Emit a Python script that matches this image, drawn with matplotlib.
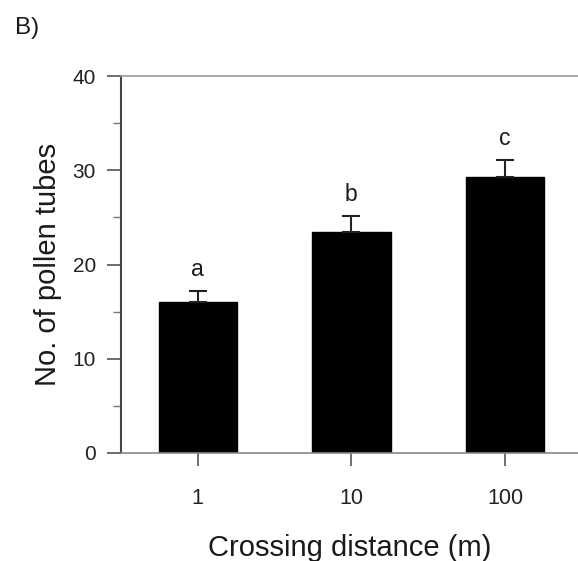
import matplotlib
matplotlib.use("Agg")
import matplotlib.pyplot as plt
from matplotlib.ticker import MultipleLocator

plt.rcParams['font.family'] = ['Liberation Sans', 'DejaVu Sans']

categories = ["1", "10", "100"]
means = [16.0, 23.5, 29.25]
sems = [1.2, 1.65, 1.85]
letters = ["a", "b", "c"]

fig = plt.figure(figsize=(5.78, 5.61), dpi=100)
ax = fig.add_axes([121/578, 108/561, 1 - 121/578, 377/561])

x = list(range(len(categories)))
ax.bar(x, means, width=0.51, color='black', edgecolor='black', zorder=2)
ax.errorbar(x, means, yerr=[[0]*len(sems), sems], fmt='none', ecolor='#222222',
            elinewidth=1.5, capsize=6.5, capthick=1.5, zorder=3)
for xi, m, s, l in zip(x, means, sems, letters):
    ax.text(xi, m + s + 2.25, l, ha='center', va='center', fontsize=16.5, color='#1a1a1a')

ax.set_xlim(-0.5, 2.475)
ax.set_ylim(0, 40)
ax.set_xticks(x)
ax.set_xticklabels(categories)
ax.yaxis.set_major_locator(MultipleLocator(10))
ax.yaxis.set_minor_locator(MultipleLocator(5))

ax.tick_params(axis='y', which='major', direction='out', length=10, width=1.2,
               color='#555555', labelsize=15, labelcolor='#222222', pad=8)
ax.tick_params(axis='y', which='minor', direction='out', length=6, width=1.0, color='#777777')
ax.tick_params(axis='x', which='major', direction='out', length=9, width=1.2,
               color='#555555', labelsize=15.5, labelcolor='#222222', pad=16)

ax.spines['right'].set_visible(False)
ax.spines['left'].set_color('#444444')
ax.spines['left'].set_linewidth(1.5)
ax.spines['top'].set_color('#999999')
ax.spines['top'].set_linewidth(1.2)
ax.spines['bottom'].set_color('#888888')
ax.spines['bottom'].set_linewidth(1.2)

ax.set_ylabel("No. of pollen tubes", fontsize=21, color='#1a1a1a', labelpad=8)
ax.set_xlabel("Crossing distance (m)", fontsize=21, color='#1a1a1a', labelpad=18)

fig.text(15/578, 1 - 28/561, "B)", fontsize=17.5, ha='left', va='center', color='#1a1a1a')

fig.savefig("out.png", dpi=100)
